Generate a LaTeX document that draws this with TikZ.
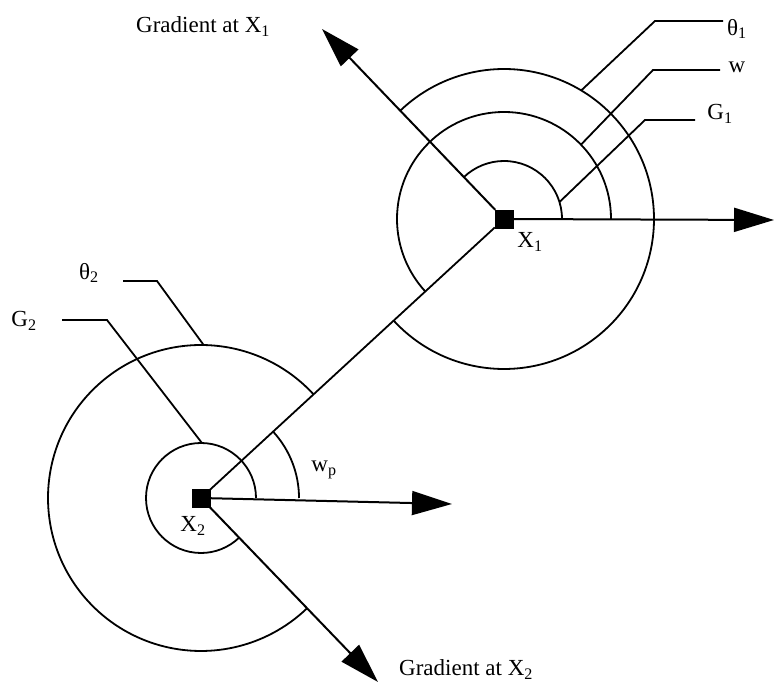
\documentclass[tikz,border=0pt]{standalone}
\usepackage{fontspec}
\setmainfont{Liberation Serif}
\usepackage{tikz}
\usetikzlibrary{positioning,arrows.meta,calc}

\begin{document}
\begin{tikzpicture}[x=1pt, y=1pt,
  ln/.style={line width=1.8pt},
  grad/.style={-{Triangle[length=40pt,width=24pt]}, line width=2pt},
  pt/.style={draw, fill=black, minimum size=18pt, inner sep=0pt},
  lbl/.style={font=\fontsize{23}{27}\selectfont, inner sep=1pt}]
\useasboundingbox (0,0) rectangle (774,688);
% the two points
\node[pt] (x1) at (504,469) {};
\node[pt] (x2) at (201,190) {};
% arcs round X1
\draw[ln] ($(x1)+(58,0)$) arc[start angle=0, end angle=134, radius=58];
\draw[ln] ($(x1)+(107,0)$) arc[start angle=0, end angle=222.6, radius=107];
\draw[ln] ($(x1)+(-137.4:150)$) arc[start angle=-137.4, end angle=134, radius=150];
% arcs round X2
\draw[ln] ($(x2)+(98,0)$) arc[start angle=0, end angle=42.6, radius=98];
\draw[ln] ($(x2)+(55,0)$) arc[start angle=0, end angle=313.7, radius=55];
\draw[ln] ($(x2)+(42.6:153)$) arc[start angle=42.6, end angle=313.7, radius=153];
% arrows
\coordinate (g1) at (322,659);
\coordinate (h1) at (774,468);
\coordinate (h2) at (452,184);
\coordinate (g2) at (378,6);
\draw[grad] (x1) -- (g1);
\draw[grad] (x1) -- (h1);
\draw[ln] (x1) -- (x2);
\draw[grad] (x2) -- (h2);
\draw[grad] (x2) -- (g2);
% leaders
\coordinate (t1) at ($(x1)+(59:150)$);
\coordinate (w1) at ($(x1)+(44:107)$);
\coordinate (c1) at ($(x1)+(17:58)$);
\coordinate (t2) at ($(x2)+(89:153)$);
\coordinate (c2) at ($(x2)+(89:55)$);
\draw[ln] (t1) -- (655,667) -- (723,667);
\draw[ln] (w1) -- (653,618) -- (720,618);
\draw[ln] (c1) -- (645,568) -- (695,568);
\draw[ln] (t2) -- (157,407) -- (123,407);
\draw[ln] (c2) -- (107,368) -- (62,368);
% labels
\node[lbl] (lt1) at (737,659) {θ\textsubscript{1}};
\node[lbl] (lw)  at (737,621) {w};
\node[lbl] (lg1) at (720,574) {G\textsubscript{1}};
\node[lbl] (lt2) at (89,415)  {θ\textsubscript{2}};
\node[lbl] (lg2) at (24,367)  {G\textsubscript{2}};
\node[lbl] (lx1) at (530,446) {X\textsubscript{1}};
\node[lbl] (lx2) at (193,162) {X\textsubscript{2}};
\node[lbl] (lwp) at (324,218) {w\textsubscript{p}};
\node[lbl, anchor=base west] (gx1) at (135,655) {Gradient at X\textsubscript{1}};
\node[lbl, anchor=base west] (gx2) at (398,12) {Gradient at X\textsubscript{2}};
\end{tikzpicture}
\end{document}
